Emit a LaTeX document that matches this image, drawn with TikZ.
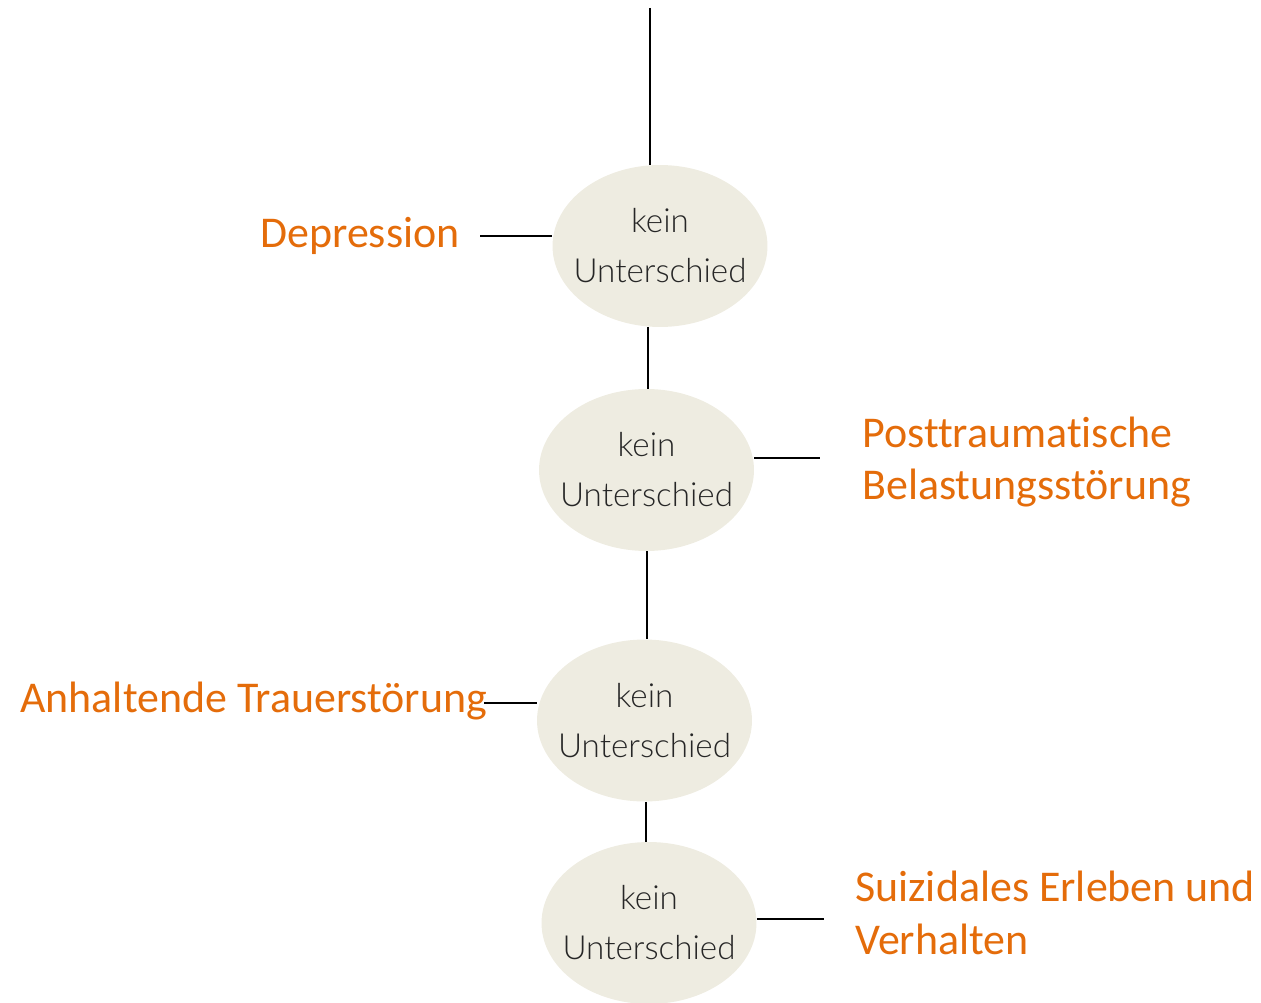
\documentclass[tikz,border=0pt]{standalone}
\usepackage{fontspec}
\usepackage{xcolor}
\usetikzlibrary{shapes.geometric,positioning,calc}
\setmainfont{Carlito}[Ligatures=CommonOff]
\newfontfamily\latolight{Lato Light}
\definecolor{labelorange}{HTML}{E46C0A}
\definecolor{ovaltan}{HTML}{EEECE1}
\definecolor{textgray}{RGB}{38,38,38}

\begin{document}
\begin{tikzpicture}[x=0.02cm, y=-0.02cm,
  oval/.style={ellipse, fill=ovaltan, minimum width=4.3cm, minimum height=3.24cm,
               inner xsep=-0.5cm, inner ysep=0pt, align=center, text=textgray,
               font=\latolight\fontsize{18.9}{28.5}\selectfont},
  lbl/.style={text=labelorange, align=left, inner sep=0pt,
              font=\fontsize{25}{30}\selectfont},
  conn/.style={line width=1.1pt, black}
]
\useasboundingbox (0,0) rectangle (1261,1003);

% ovals down the middle
\node[oval] (e1) at (660,246)   {kein\\Unterschied};
\node[oval] (e2) at (646.5,470) {kein\\Unterschied};
\node[oval] (e3) at (644.5,720.5) {kein\\Unterschied};
\node[oval] (e4) at (649,923)   {kein\\Unterschied};

% labels on both sides
\node[lbl, anchor=west] (dep)  at (260,236) {Depression};
\node[lbl, anchor=west] (ptbs) at (862,462) {Posttraumatische\\Belastungsstörung};
\node[lbl, anchor=west] (pgd)  at (20,701)  {Anhaltende Trauerstörung};
\node[lbl, anchor=west] (suiz) at (855,913) {Suizidales Erleben und\\Verhalten};

% spine x positions and loose ends of the stubs
\coordinate (top)  at (650,8);
\coordinate (s12)  at (648,0);
\coordinate (s23)  at (647,0);
\coordinate (s34)  at (646,0);
\coordinate (depend)  at (480,236);
\coordinate (ptbsend) at (820,458);
\coordinate (pgdend)  at (484,703);
\coordinate (suizend) at (824,919);

% vertical spine
\draw[conn] (top) -- (top |- e1.north);
\draw[conn] (s12 |- e1.south) -- (s12 |- e2.north);
\draw[conn] (s23 |- e2.south) -- (s23 |- e3.north);
\draw[conn] (s34 |- e3.south) -- (s34 |- e4.north);

% side stubs
\draw[conn] (depend) -- (e1.west |- depend);
\draw[conn] (e2.east |- ptbsend) -- (ptbsend);
\draw[conn] (pgdend) -- (e3.west |- pgdend);
\draw[conn] (e4.east |- suizend) -- (suizend);
\end{tikzpicture}
\end{document}
